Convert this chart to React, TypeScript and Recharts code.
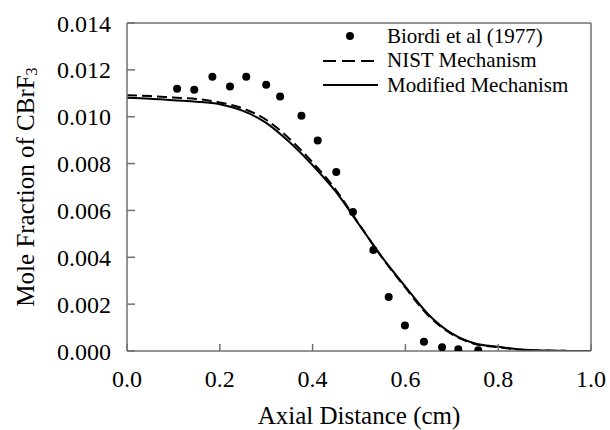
import { ComposedChart, Line, Scatter, XAxis, YAxis, ReferenceLine, Legend } from 'recharts'

const FONT = "Liberation Serif, 'DejaVu Serif', serif"

const xTicks = [0, 0.2, 0.4, 0.6, 0.8, 1.0]
const yTicks = [0, 0.002, 0.004, 0.006, 0.008, 0.01, 0.012, 0.014]

// Biordi et al (1977) measurements
const biordiX = [0.108, 0.145, 0.184, 0.222, 0.257, 0.3, 0.33, 0.376, 0.411, 0.451, 0.487, 0.531, 0.564, 0.599, 0.64, 0.679, 0.714, 0.757]
const biordiY = [0.01119, 0.01115, 0.01171, 0.01129, 0.01171, 0.01136, 0.01086, 0.01004, 0.00898, 0.00764, 0.00593, 0.00431, 0.0023, 0.00109, 0.00039, 0.00016, 0.00007, 0.00003]

// model curves
const modelX = [0, 0.05, 0.1, 0.15, 0.2, 0.25, 0.3, 0.35, 0.4, 0.45, 0.5, 0.55, 0.6, 0.65, 0.7, 0.75, 0.8, 0.85, 0.9, 0.95, 1.0]
const nistY = [0.01092, 0.01088, 0.01082, 0.01076, 0.01061, 0.01035, 0.00987, 0.00906, 0.00805, 0.00688, 0.00542, 0.00398, 0.0027, 0.0015, 0.00072, 0.0003, 0.00016, 0.00005, 0.00002, 0.000005, 0]
const modifiedY = [0.01081, 0.01077, 0.0107, 0.01064, 0.01053, 0.01025, 0.00974, 0.00892, 0.00793, 0.0068, 0.0054, 0.004, 0.00275, 0.00155, 0.00075, 0.00032, 0.00018, 0.00006, 0.00002, 0.000005, 0]

const biordiData = biordiX.map((x, i) => ({ x, y: biordiY[i] }))
const nistData = modelX.map((x, i) => ({ x, y: nistY[i] }))
const modifiedData = modelX.map((x, i) => ({ x, y: modifiedY[i] }))

const AXIS = '#707070'

function XTitle(props: any) {
  const { x, y, width } = props.viewBox
  return (
    <text x={x + width / 2} y={y + 73} textAnchor="middle" fontFamily={FONT} fontSize={25} fill="#000">
      Axial Distance (cm)
    </text>
  )
}

function YTitle(props: any) {
  const { y, height } = props.viewBox
  const cx = 25
  const cy = y + height / 2
  return (
    <text
      x={cx}
      y={cy}
      transform={`rotate(-90 ${cx} ${cy})`}
      textAnchor="middle"
      dominantBaseline="central"
      fontFamily={FONT}
      fontSize={25}
      fill="#000"
    >
      Mole Fraction of CBrF
      <tspan fontSize={16} dy={6}>3</tspan>
    </text>
  )
}

function LegendBox() {
  const row = { display: 'flex', alignItems: 'center', height: 24.5 }
  return (
    <div style={{ fontFamily: FONT, fontSize: 21, color: '#000', whiteSpace: 'nowrap' }}>
      <div style={row}>
        <svg width={58} height={20}>
          <circle cx={27} cy={10} r={4} fill="#000" />
        </svg>
        <span style={{ marginLeft: 6 }}>Biordi et al (1977)</span>
      </div>
      <div style={row}>
        <svg width={58} height={20}>
          <line x1={0} y1={10} x2={57} y2={10} stroke="#000" strokeWidth={1.8} strokeDasharray="13 6" />
        </svg>
        <span style={{ marginLeft: 6 }}>NIST Mechanism</span>
      </div>
      <div style={row}>
        <svg width={58} height={20}>
          <line x1={0} y1={10} x2={55} y2={10} stroke="#000" strokeWidth={2} />
        </svg>
        <span style={{ marginLeft: 6 }}>Modified Mechanism</span>
      </div>
    </div>
  )
}

function TickText(props: any) {
  const { x, y, payload, textAnchor, digits, dy } = props
  return (
    <text x={x} y={y} dy={dy} textAnchor={textAnchor} fontFamily={FONT} fontSize={24} fill="#000">
      {Number(payload.value).toFixed(digits)}
    </text>
  )
}

export default function App() {
  return (
    <div style={{ position: 'absolute', left: 0, top: 0, fontFamily: FONT }}>
      <ComposedChart width={610} height={430} margin={{ top: 23, right: 19, bottom: 19, left: 0 }}>
        <XAxis
          type="number"
          dataKey="x"
          domain={[0, 1]}
          ticks={xTicks}
          height={60}
          stroke={AXIS}
          strokeWidth={1.5}
          tickSize={-7}
          tickMargin={26}
          tick={(p: any) => <TickText {...p} digits={1} dy="0.71em" />}
          allowDataOverflow
          label={XTitle}
        />
        <YAxis
          type="number"
          dataKey="y"
          domain={[0, 0.014]}
          ticks={yTicks}
          width={127}
          stroke={AXIS}
          strokeWidth={1.5}
          tickSize={-8}
          tickMargin={24}
          tick={(p: any) => <TickText {...p} digits={3} dy="0.355em" />}
          allowDataOverflow
          label={YTitle}
        />
        <ReferenceLine y={0.014} stroke={AXIS} strokeWidth={1.5} />
        <ReferenceLine x={1} stroke={AXIS} strokeWidth={1.5} />
        <Line
          data={nistData}
          dataKey="y"
          type="monotone"
          stroke="#000"
          strokeWidth={2}
          strokeDasharray="10 5"
          dot={false}
          isAnimationActive={false}
        />
        <Line
          data={modifiedData}
          dataKey="y"
          type="monotone"
          stroke="#000"
          strokeWidth={2}
          dot={false}
          isAnimationActive={false}
        />
        <Scatter
          data={biordiData}
          dataKey="y"
          fill="#000"
          shape={(p: any) => <circle cx={p.cx} cy={p.cy} r={4} fill="#000" />}
          isAnimationActive={false}
        />
        <Legend
          layout="vertical"
          align="center"
          verticalAlign="middle"
          wrapperStyle={{ left: 323, top: 24, width: 270 }}
          content={() => <LegendBox />}
        />
      </ComposedChart>
    </div>
  )
}
